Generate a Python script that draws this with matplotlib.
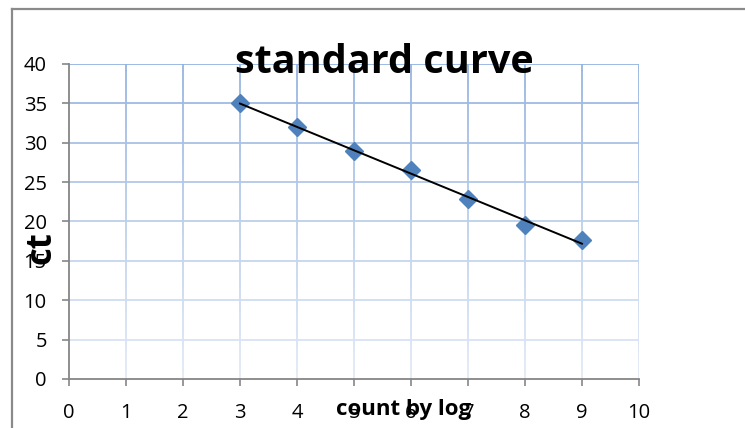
import numpy as np
import matplotlib
matplotlib.use('Agg')
import matplotlib.pyplot as plt
from matplotlib.collections import LineCollection
from matplotlib.colors import to_rgb

# log count vs ct
log_count = [3, 4, 5, 6, 7, 8, 9]
ct_values = [35.0, 32.0, 29.0, 26.5, 22.8, 19.6, 17.65]
x_ticks = list(range(0, 11))
y_ticks = list(range(0, 41, 5))

W, H = 745, 428
fig = plt.figure(figsize=(W / 100, H / 100), dpi=100)
ax = fig.add_axes([69 / W, 1 - 379 / H, (639 - 69) / W, (379 - 64) / H])

font = 'Open Sans'
grey = '#868686'
top_c = np.array(to_rgb('#95b3e0'))
bot_c = np.array(to_rgb('#e2eaf6'))


def grid_col(y):
    t = y / 40.0
    return bot_c + (top_c - bot_c) * t


# gridlines fading from darker blue (top) to pale (bottom)
segs, cols = [], []
for y in y_ticks[1:]:
    segs.append([(0, y), (10, y)])
    cols.append(grid_col(y))
ys = np.linspace(0, 40, 81)
for x in x_ticks[1:]:
    for a, b in zip(ys[:-1], ys[1:]):
        segs.append([(x, a), (x, b)])
        cols.append(grid_col((a + b) / 2))
ax.add_collection(LineCollection(segs, colors=cols, linewidths=1.3, zorder=1))

ax.plot(log_count, ct_values, linestyle='none', marker='D', markersize=9.5,
        color='#4f81bd', zorder=3)

# linear trend line
k, b = np.polyfit(log_count, ct_values, 1)
xs = np.array([log_count[0], log_count[-1]])
ax.plot(xs, k * xs + b, color='black', linewidth=1.4, zorder=4)

ax.set_xlim(0, 10)
ax.set_ylim(0, 40)
ax.set_xticks(x_ticks)
ax.set_yticks(y_ticks)
ax.set_xticklabels([str(v) for v in x_ticks], fontsize=14.5, family=font)
ax.set_yticklabels([str(v) for v in y_ticks], fontsize=14.5, family=font)
ax.tick_params(axis='both', direction='out', length=5, width=1.2, color=grey)
ax.tick_params(axis='x', pad=12)
ax.tick_params(axis='y', pad=11)
for side in ['top', 'right']:
    ax.spines[side].set_visible(False)
for side in ['left', 'bottom']:
    ax.spines[side].set_color(grey)
    ax.spines[side].set_linewidth(1.3)
    ax.spines[side].set_zorder(5)

fig.text(384.5 / W, 1 - 73 / H, 'standard curve', fontsize=28.5, fontweight='bold',
         family=font, ha='center', va='baseline')
fig.text(42 / W, 1 - 248 / H, 'ct', fontsize=25, fontweight='bold', family=font,
         rotation=90, ha='center', va='center')
fig.text(404 / W, 1 - 415 / H, 'count by log', fontsize=16, fontweight='bold',
         family=font, ha='center', va='baseline')

# chart frame (only left and top edges fall inside the picture)
fig.add_artist(plt.Line2D([12 / W, 12 / W], [0, 1 - 9 / H], transform=fig.transFigure,
                          color='#8a8a8a', linewidth=1.6))
fig.add_artist(plt.Line2D([12 / W, 1], [1 - 9 / H, 1 - 9 / H], transform=fig.transFigure,
                          color='#8a8a8a', linewidth=1.6))

fig.savefig('out.png', dpi=100)
